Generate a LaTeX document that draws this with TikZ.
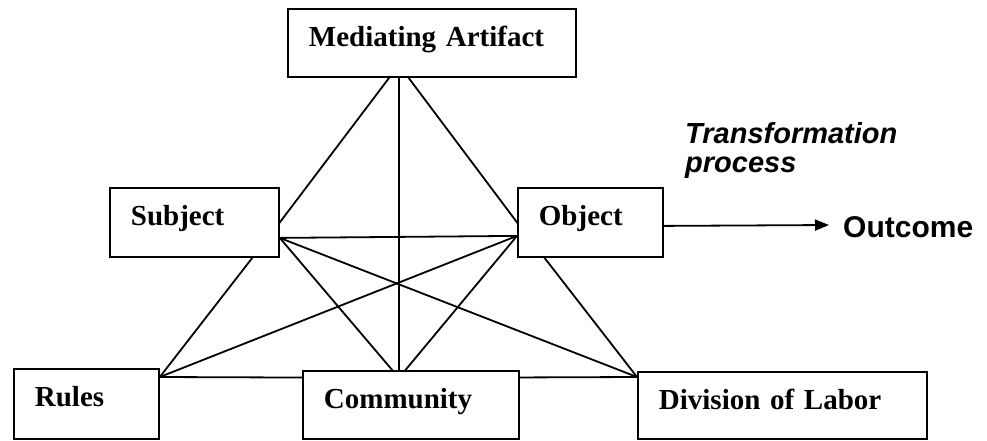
\documentclass[tikz,border=0pt]{standalone}
\usepackage{fontspec}
\setmainfont{Liberation Serif}
\newfontfamily\labelsans{Liberation Sans}
\usetikzlibrary{calc,arrows.meta,backgrounds}
\begin{document}
\begin{tikzpicture}[x=1pt,y=-1pt,
  box/.style={draw, line width=1.8pt, fill=white, anchor=north west,
    inner xsep=21pt, inner ysep=0pt, align=left, text height=38pt,
    font=\fontsize{29pt}{34pt}\selectfont\bfseries},
  link/.style={draw, line width=1.8pt, line cap=round},
  sidelabel/.style={anchor=base west, inner sep=0pt}]
\useasboundingbox (0,0) rectangle (987,440);

% activity-system elements
\node[box, text width=246pt, text depth=30pt] (med) at (287,8) {Mediating Artifact};
\node[box, text width=127pt, text depth=31pt] (sub) at (109,187) {Subject};
\node[box, text width=103pt, text depth=31pt] (obj) at (517,187) {Object};
\node[box, text width=103pt, text depth=32pt] (rul) at (13,368) {Rules};
\node[box, text width=174pt, text depth=30pt] (com) at (302,370) {Community};
\node[box, text width=247pt, text depth=29pt] (div) at (637,371) {Division of Labor};

% meeting points of the connecting lines
\coordinate (hM) at ($(med.center)+(-33,22)$);
\coordinate (hS) at ($(sub.east)+(0,15.5)$);
\coordinate (hO) at ($(obj.west)+(0,13.5)$);
\coordinate (hC) at ($(com.center)+(-12,-27)$);
\coordinate (hR) at ($(rul.north east)+(0,9)$);
\coordinate (hD) at ($(div.north west)+(0,6)$);

\begin{scope}[on background layer]
  \draw[link] (hM) -- (sub.east);
  \draw[link] (hM) -- (hC);
  \draw[link] (hM) -- (obj.west);
  \draw[link] (hS) -- (hO);
  \draw[link] (hS) -- (hC);
  \draw[link] (hS) -- (hD);
  \draw[link] (sub.east) -- (hR);
  \draw[link] (hO) -- (hR);
  \draw[link] (hO) -- (hC);
  \draw[link] (obj.west) -- (hD);
  \draw[link] (hR) -- (hC);
  \draw[link] (hC) -- (hD);
\end{scope}

% transformation of the object into the outcome
\node[sidelabel, font=\labelsans\fontsize{29pt}{29pt}\selectfont\bfseries\itshape] (tr1) at (685,143) {Transformation};
\node[sidelabel, font=\labelsans\fontsize{29pt}{29pt}\selectfont\bfseries\itshape] (tr2) at (685,172) {process};
\node[sidelabel, font=\labelsans\fontsize{30pt}{30pt}\selectfont\bfseries] (out) at (843,237) {Outcome};
\coordinate (tip) at (829,225);
\draw[line width=1.8pt, -{Triangle[length=14pt,width=11pt]}] ($(obj.east)+(0,3.5)$) -- (tip);
\end{tikzpicture}
\end{document}
